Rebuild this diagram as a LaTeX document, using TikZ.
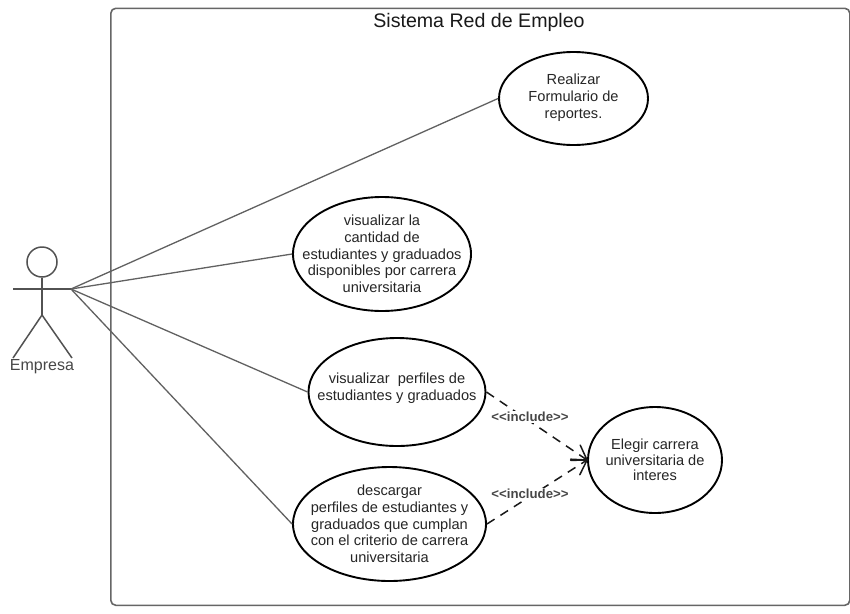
\documentclass[tikz,border=0pt]{standalone}
\usepackage{fontspec}
\setmainfont{Liberation Sans}
\usetikzlibrary{arrows.meta,shapes.geometric}
\pgfdeclarearrow{
  name=OpenVee,
  setup code={\pgfarrowssettipend{0pt}\pgfarrowssetlineend{-0.5\pgflinewidth}\pgfarrowssetvisualbackend{-14pt}\pgfarrowssetbackend{-14pt}\pgfarrowshullpoint{0pt}{0pt}\pgfarrowsupperhullpoint{-14pt}{8.5pt}},
  drawing code={\pgfsetdash{}{0pt}\pgfsetroundcap\pgfsetmiterjoin\pgfpathmoveto{\pgfpoint{-14pt}{8.5pt}}\pgfpathlineto{\pgfpointorigin}\pgfpathlineto{\pgfpoint{-14pt}{-8.5pt}}\pgfusepathqstroke},
}
\tikzset{
 uc/.style={draw=black,line width=1.9pt,ellipse,inner xsep=-50pt,inner ysep=-20pt,align=center,text=black!85,font=\fontsize{14.6}{#1}\selectfont},
 assoc/.style={draw=black!62,line width=1.3pt},
 inc/.style={draw=black!90,line width=1.5pt,dash pattern=on 9pt off 7pt,-{OpenVee}},
 lab/.style={font=\bfseries\fontsize{13.2}{15}\selectfont,text=black!72,fill=white,inner sep=1pt},
 stick/.style={draw=black!68,line width=1.5pt}
}
\begin{document}
\begin{tikzpicture}[x=1pt,y=-1pt]
\useasboundingbox (0,0) rectangle (850,613);
\fill[white] (0,0) rectangle (850,613);
\node[draw=black!60,line width=1.6pt,rounded corners=5pt,minimum width=739pt,minimum height=597pt,anchor=north west,inner sep=0pt] (sys) at (110,7.5) {};
\node[font=\fontsize{19.6}{22}\selectfont,text=black!90] (title) at (479,22.5) {Sistema Red de Empleo};
\node[uc=17,minimum width=149pt,minimum height=93pt] (u1) at (573.5,98.5) {Realizar\\Formulario de\\reportes.\\[-13pt]\mbox{}};
\node[uc=16.7,minimum width=178pt,minimum height=114pt] (u2) at (382,254) {visualizar la\\cantidad de\\estudiantes y graduados\\disponibles por carrera\\universitaria};
\node[uc=17,minimum width=177pt,minimum height=108pt] (u3) at (397,392) {visualizar~ perfiles de\\estudiantes y graduados\\[-6pt]\mbox{}};
\node[uc=16.7,minimum width=193pt,minimum height=114pt] (u4) at (389.5,524) {descargar\\perfiles de estudiantes y\\graduados que cumplan\\con el criterio de carrera\\universitaria};
\node[uc=15.5,minimum width=134pt,minimum height=106pt] (u5) at (655,460) {Elegir carrera\\universitaria de\\interes};
\node[draw=black!68,line width=1.5pt,circle,minimum size=30pt,inner sep=0pt] (head) at (42,262) {};
\coordinate (hand) at (71,289);
\coordinate (hip) at (42,315);
\coordinate (ha) at (13,289);
\coordinate (fl) at (13,358);
\coordinate (fr) at (72,358);
\draw[stick] (head.south) -- (hip);
\draw[stick] (ha) -- (hand);
\draw[stick] (hip) -- (fl);
\draw[stick] (hip) -- (fr);
\node[font=\fontsize{16}{18}\selectfont,text=black!72,inner sep=0pt] (actor) at (42,367) {Empresa};
\draw[assoc] (hand) -- (u1.west);
\draw[assoc] (hand) -- (u2.west);
\draw[assoc] (hand) -- (u3.west);
\draw[assoc] (hand) -- (u4.west);
\draw[inc] (u3.east) -- (u5.west);
\draw[inc] (u4.east) -- (u5.west);
\node[lab] (l1) at (530,417) {<{}<include>{}>};
\node[lab] (l2) at (530,494) {<{}<include>{}>};
\end{tikzpicture}
\end{document}
